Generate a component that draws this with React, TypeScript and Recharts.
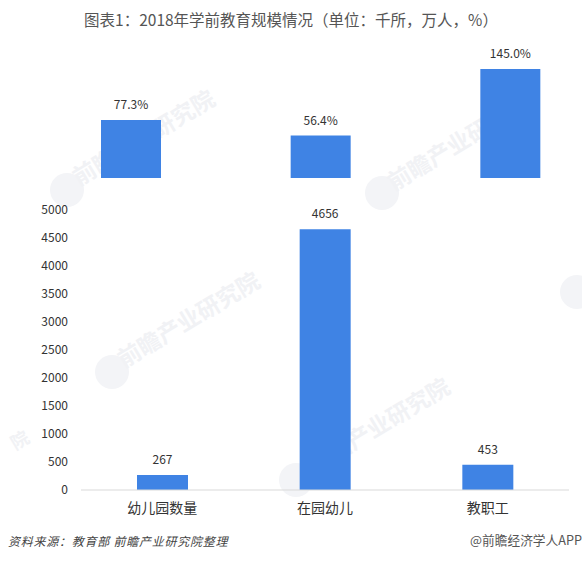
import React from "react";
import { BarChart, Bar, XAxis, YAxis, LabelList } from "recharts";

const categories = ["幼儿园数量", "在园幼儿", "教职工"];
const sizeValues = [267, 4656, 453];
const growthValues = [77.3, 56.4, 145.0];
const sizeTicks = [0, 500, 1000, 1500, 2000, 2500, 3000, 3500, 4000, 4500, 5000];
const titleText = "图表1：2018年学前教育规模情况（单位：千所，万人，%）";
const sourceText = "资料来源：教育部 前瞻产业研究院整理";
const creditText = "@前瞻经济学人APP";
const watermarkText = "前瞻产业研究院";
const watermarkTail = "院";
const watermarkSpots = [
  [80, 188, watermarkText],
  [125, 370, watermarkText],
  [395, 193, watermarkText],
  [315, 476, watermarkText],
];
const watermarkLogos = [
  [67, 190],
  [112, 372],
  [382, 193],
  [296, 480],
  [577, 292],
];

const sizeData = categories.map((name, i) => ({ name, value: sizeValues[i] }));
const growthData = categories.map((name, i) => ({ name, value: growthValues[i] }));

const FONT = '"Noto Sans CJK SC", "Noto Sans", sans-serif';
const BLUE = "#3f83e4";

export default function App() {
  return (
    <div
      style={{
        position: "absolute",
        left: 0,
        top: 0,
        width: 582,
        height: 561,
        overflow: "hidden",
        background: "#fff",
        fontFamily: FONT,
      }}
    >
      {watermarkLogos.map(([x, y], i) => (
        <div
          key={`logo-${i}`}
          style={{
            position: "absolute",
            left: x - 17,
            top: y - 17,
            width: 34,
            height: 34,
            borderRadius: "50%",
            background: "#f3f4f7",
          }}
        />
      ))}
      {watermarkSpots.map(([x, y, t], i) => (
        <div
          key={i}
          style={{
            position: "absolute",
            left: x as number,
            top: (y as number) - 23,
            fontSize: 23,
            lineHeight: "23px",
            fontWeight: 700,
            color: "#f1f2f5",
            whiteSpace: "nowrap",
            transform: "rotate(-31deg)",
            transformOrigin: "0 100%",
          }}
        >
          {t}
        </div>
      ))}
      <div
        style={{
          position: "absolute",
          left: 10,
          top: 428,
          fontSize: 18,
          lineHeight: "22px",
          fontWeight: 700,
          color: "#f1f2f5",
          transform: "rotate(-31deg)",
        }}
      >
        {watermarkTail}
      </div>

      <div
        style={{
          position: "absolute",
          left: 0,
          top: 9,
          width: 582,
          textAlign: "center",
          fontSize: 15.5,
          lineHeight: "20px",
          color: "#555",
          whiteSpace: "nowrap",
        }}
      >
        {titleText}
      </div>

      <div style={{ position: "absolute", left: 0, top: 0 }}>
        <BarChart
          width={620}
          height={178}
          data={growthData}
          margin={{ top: 69, right: 15, bottom: 0, left: 36 }}
          style={{ fontFamily: FONT }}
        >
          <XAxis dataKey="name" hide />
          <YAxis hide domain={[0, 145]} />
          <Bar dataKey="value" fill={BLUE} barSize={60} isAnimationActive={false}>
            <LabelList
              dataKey="value"
              position="top"
              offset={11}
              formatter={(v: number) => `${v.toFixed(1)}%`}
              style={{ fontSize: 12, fill: "#333" }}
            />
          </Bar>
        </BarChart>
      </div>

      <div style={{ position: "absolute", left: 0, top: 0 }}>
        <BarChart
          width={582}
          height={530}
          data={sizeData}
          margin={{ top: 210, right: 13, bottom: 0, left: 0 }}
          style={{ fontFamily: FONT }}
        >
          <XAxis
            dataKey="name"
            height={40}
            axisLine={{ stroke: "#d9d9d9" }}
            tickLine={false}
            tickMargin={7}
            tick={{ fontSize: 14, fill: "#333" }}
          />
          <YAxis
            width={81}
            domain={[0, 5000]}
            ticks={sizeTicks}
            interval={0}
            axisLine={false}
            tickLine={false}
            tickMargin={7}
            tick={{ fontSize: 12, fill: "#333" }}
          />
          <Bar dataKey="value" fill={BLUE} barSize={51} isAnimationActive={false}>
            <LabelList
              dataKey="value"
              position="top"
              offset={11}
              style={{ fontSize: 12, fill: "#333" }}
            />
          </Bar>
        </BarChart>
      </div>

      <div
        style={{
          position: "absolute",
          left: 8,
          top: 533,
          fontSize: 12,
          lineHeight: "16px",
          letterSpacing: 0.75,
          fontStyle: "italic",
          color: "#444",
          whiteSpace: "nowrap",
        }}
      >
        {sourceText}
      </div>
      <div
        style={{
          position: "absolute",
          right: 0,
          top: 531,
          fontSize: 12.7,
          lineHeight: "18px",
          color: "#555",
          whiteSpace: "nowrap",
        }}
      >
        {creditText}
      </div>
    </div>
  );
}
